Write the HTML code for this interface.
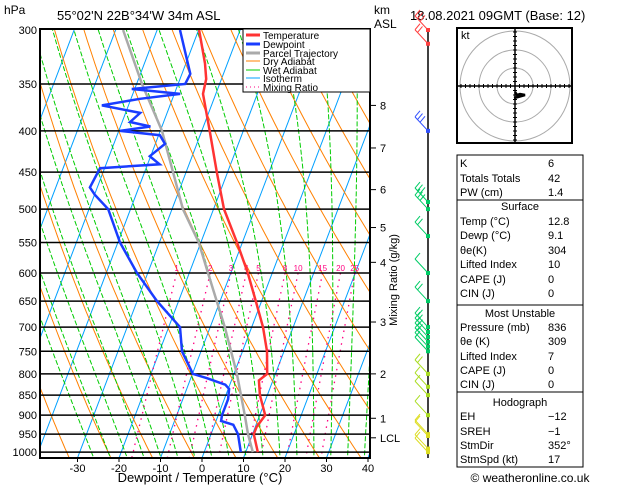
<!DOCTYPE html>
<html><head><meta charset="utf-8">
<style>
html,body{margin:0;padding:0;background:#fff;}
svg{display:block;font-family:"Liberation Sans",sans-serif;}
.t{font-size:12px;fill:#000;}
.s{font-size:11px;fill:#000;}
.lg{font-size:10px;fill:#000;}
</style></head>
<body>
<svg id="chart" width="629" height="486" viewBox="0 0 629 486" xmlns="http://www.w3.org/2000/svg">
  <defs><clipPath id="plotclip"><rect x="40" y="29" width="330" height="429"/></clipPath></defs>
  <text class="t" x="4" y="14">hPa</text>
  <text class="t" x="57" y="20" style="font-size:13px">55°02'N  22B°34'W  34m  ASL</text>
  <text class="t" x="374" y="14">km</text>
  <text class="t" x="374" y="28">ASL</text>
  <text class="t" x="410" y="20" style="font-size:13px">18.08.2021  09GMT  (Base: 12)</text>
  <g id="bg" clip-path="url(#plotclip)"></g>
  <g id="isobars"></g>
  <g id="series" clip-path="url(#plotclip)"></g>
  <rect x="40" y="29" width="330" height="429" fill="none" stroke="#000" stroke-width="2"/>
  <g id="axes"></g>
  <text class="t" x="200" y="482" text-anchor="middle" style="font-size:13px">Dewpoint / Temperature (°C)</text>
  <text class="s" transform="translate(397,280) rotate(-90)" text-anchor="middle">Mixing Ratio (g/kg)</text>
  <g>
    <rect x="243" y="29" width="127" height="63" fill="#fff" stroke="#000" stroke-width="1"/>
    <line x1="246" y1="35" x2="260" y2="35" stroke="#ff3333" stroke-width="3"/><text class="lg" x="263" y="39">Temperature</text>
    <line x1="246" y1="44" x2="260" y2="44" stroke="#1a3cff" stroke-width="3"/><text class="lg" x="263" y="48">Dewpoint</text>
    <line x1="246" y1="53" x2="260" y2="53" stroke="#aaa" stroke-width="3"/><text class="lg" x="263" y="57">Parcel Trajectory</text>
    <line x1="246" y1="61" x2="260" y2="61" stroke="#ff8000" stroke-width="1"/><text class="lg" x="263" y="65">Dry Adiabat</text>
    <line x1="246" y1="70" x2="260" y2="70" stroke="#00cc00" stroke-width="1"/><text class="lg" x="263" y="74">Wet Adiabat</text>
    <line x1="246" y1="78" x2="260" y2="78" stroke="#00a0ff" stroke-width="1"/><text class="lg" x="263" y="82">Isotherm</text>
    <line x1="246" y1="87" x2="260" y2="87" stroke="#ff0080" stroke-width="1" stroke-dasharray="1,3"/><text class="lg" x="263" y="91">Mixing Ratio</text>
  </g>
  <g id="wind"></g>
  <g id="hodo">
    <rect x="457" y="28" width="115" height="115" fill="#fff" stroke="#000" stroke-width="2"/>
    <text class="s" x="461" y="39">kt</text>
  </g>
  <g id="table"></g>
  <text class="t" x="530" y="482" text-anchor="middle">© weatheronline.co.uk</text>
</svg>
<script>
// ---- data ----
const tempP = [300,330,345,360,400,450,500,550,600,650,700,750,800,815,850,900,930,950,1000];
const tempT = [-39.9,-35.4,-33.7,-33.1,-28.1,-22.6,-17.5,-11.3,-5.9,-1.4,2.7,5.9,8.0,6.6,8.2,11.3,10.3,10.3,12.9];
const dewP = [300,340,350,355,360,365,372,380,390,395,400,405,415,430,440,445,470,480,500,550,600,650,700,750,800,810,825,835,860,900,915,925,950,1000];
const dewT = [-44.5,-38,-38.3,-50.7,-38.6,-47.8,-56.4,-46.5,-48.1,-42.8,-49.7,-39.7,-37.7,-40.2,-37.1,-51.1,-51.8,-49.9,-45.4,-39.5,-32.6,-25.2,-17.3,-14.6,-9.9,-6.1,-1.1,0.2,0.9,0.9,1.2,4.5,6.5,8.8];
const parcelP = [300,350,400,500,550,600,700,800,900,950,1000];
const parcelT = [-58.2,-48.7,-39.6,-27.4,-20.5,-15.5,-6.5,0.7,6.4,8.9,11.7];
const pressureTicks = [300,350,400,450,500,550,600,650,700,750,800,850,900,950,1000];
const tempTicks = [-30,-20,-10,0,10,20,30,40];
const kmLabels = ["8","7","6","5","4","3","2","1","LCL"];
const kmPressures = [372,420,473,527,582,690,800,908,960];
const mixRatios = [1,2,3,4,5,8,10,15,20,25];
const windP = [300,312,400,490,500,540,600,650,700,710,720,730,740,750,800,830,850,900,950,955,990,1000];
const windSpd = [25,20,30,25,30,20,10,15,20,15,15,15,10,10,20,10,10,10,10,10,5,5];
const tableLabels = ["K","Totals Totals","PW (cm)","Temp (°C)","Dewp (°C)","θe(K)","Lifted Index","CAPE (J)","CIN (J)","Pressure (mb)","θe (K)","Lifted Index","CAPE (J)","CIN (J)","EH","SREH","StmDir","StmSpd (kt)"];
const tableValues = ["6","42","1.4","12.8","9.1","304","10","0","0","836","309","7","0","0","\u221212","\u22121","352°","17"];

// ---- axis functions ----
const NS='http://www.w3.org/2000/svg';
function yP(p){return 30+350.6*Math.log(p/300);}
function xT(t,p){return 202+4.15*t+(458-yP(p))*0.38;}
function mk(tag,attrs,parent){const e=document.createElementNS(NS,tag);for(const k in attrs)e.setAttribute(k,attrs[k]);parent.appendChild(e);return e;}
const bg=document.getElementById('bg');
function poly(pts,stroke,w,dash,parent,name){
  const e=mk('polyline',{points:pts.map(q=>q[0].toFixed(1)+','+q[1].toFixed(1)).join(' '),fill:'none',stroke:stroke,'stroke-width':w},parent);
  if(dash)e.setAttribute('stroke-dasharray',dash);
  
  
  return e;
}
const pl=[];for(let p=300;p<=1050;p+=10)pl.push(p);
for(let t=-120;t<=50;t+=10){poly([[xT(t,1050),yP(1050)],[xT(t,250),yP(250)]],'#00a0ff',1,null,bg,'isotherm');}
for(let th=230;th<=480;th+=10){poly(pl.map(p=>[xT(th*Math.pow(p/1000,0.286)-273.15,p),yP(p)]),'#ff8000',1,null,bg,'dry-adiabat');}
function es(tc){return 6.112*Math.exp(17.67*tc/(tc+243.5));}
for(let tw=-24;tw<=40;tw+=4){
  let T=tw+273.15,pts=[];
  for(let p=1050;p>=250;p-=5){
    pts.push([xT(T-273.15,p),yP(p)]);
    const e=es(T-273.15),rs=0.622*e/(p-e);
    const dTdp=(1/p)*(287*T+2.5e6*rs)/(1004+2.5e6*2.5e6*rs*0.622/(287*T*T));
    T-=dTdp*5;
  }
  poly(pts,'#00cc00',1,'5,2',bg,'wet-adiabat');
}
const mr=document.getElementById('series');
mixRatios.forEach(w=>{
  const pts=[];for(let p=600;p<=1050;p+=10){const e=w*p/(622+w),l=Math.log(e/6.112);pts.push([xT(243.5*l/(17.67-l),p),yP(p)]);}
  poly(pts,'#ff0080',1.3,'1.5,5',bg,'mixing-ratio-line');
  const e=w*600/(622+w),l=Math.log(e/6.112);
  const t=mk('text',{x:xT(243.5*l/(17.67-l),600),y:yP(600)-2,'text-anchor':'middle','font-size':'8',fill:'#ff0080'},bg);
  t.textContent=w;
  
  
});
const iso=document.getElementById('isobars'),ax=document.getElementById('axes');
pressureTicks.forEach(p=>{
  const y=yP(p);
  if(p>300){const l=mk('line',{x1:40,x2:370,y1:y,y2:y,stroke:'#000','stroke-width':1.5},iso);}
  const t=mk('text',{x:37,y:y+4,'text-anchor':'end','class':'s'},ax);t.textContent=p;
  
  
});
tempTicks.forEach(tc=>{
  const x=202+4.15*tc;
  mk('line',{x1:x,x2:x,y1:458,y2:462,stroke:'#000'},ax);
  const t=mk('text',{x:x,y:472,'text-anchor':'middle','class':'s'},ax);t.textContent=tc;
  
  
});
kmLabels.forEach((k,i)=>{
  const y=yP(kmPressures[i]);
  mk('line',{x1:370,x2:376,y1:y,y2:y,stroke:'#000'},ax);
  const t=mk('text',{x:380,y:y+4,'class':'s'},ax);t.textContent=k;
  
  
});
poly(parcelP.map((p,i)=>[xT(parcelT[i],p),yP(p)]),'#aaaaaa',2.5,null,mr,'parcel-trajectory-line');
poly(dewP.map((p,i)=>[xT(dewT[i],p),yP(p)]),'#1a3cff',2.5,null,mr,'dewpoint-line');
poly(tempP.map((p,i)=>[xT(tempT[i],p),yP(p)]),'#ff3333',2.5,null,mr,'temperature-line');
const wd=document.getElementById('wind');
mk('line',{x1:428,x2:428,y1:30,y2:458,stroke:'#000','stroke-width':1.5},wd);
windP.forEach((p,i)=>{
  const y=yP(p),c=p<420?(p<350?'#ff4040':'#3050ff'):(p<760?'#00cc66':(p<930?'#aadd22':'#dddd22'));
  const g=mk('g',{stroke:c,fill:'none','stroke-width':1},wd);
  
  
  mk('line',{x1:428,y1:y,x2:415,y2:y-14},g);
  const n=Math.round(windSpd[i]/10);
  for(let j=0;j<n;j++){mk('line',{x1:415+j*2.5,y1:y-14+j*2.7,x2:420+j*2.5,y2:y-20+j*2.7},g);}
  mk('rect',{x:426,y:y-2,width:4,height:4,fill:c,stroke:'none'},g);
});
const hd=document.getElementById('hodo');
[18,36,55].forEach(r=>{mk('circle',{cx:515,cy:86,r:r,fill:'none',stroke:'#aaa'},hd);});
mk('line',{x1:458,x2:571,y1:86,y2:86,stroke:'#000','stroke-width':1.5},hd);
mk('line',{x1:515,x2:515,y1:29,y2:142,stroke:'#000','stroke-width':1.5},hd);
for(let d=-54;d<=54;d+=4.5){mk('line',{x1:515+d,x2:515+d,y1:84,y2:88,stroke:'#000'},hd);mk('line',{x1:513,x2:517,y1:86+d,y2:86+d,stroke:'#000'},hd);}
mk('polyline',{points:'515,92 517,95 520,94 525,95 518,97 514,98',fill:'none',stroke:'#000','stroke-width':2.5},hd);
const tb=document.getElementById('table');
[[155,200],[200,305],[305,392],[392,467]].forEach(b=>{mk('rect',{x:457,y:b[0],width:126,height:b[1]-b[0],fill:'#fff',stroke:'#000'},tb);});
const heads=[["Surface",206],["Most Unstable",313],["Hodograph",402]];
heads.forEach(h=>{const t=mk('text',{x:520,y:h[1]+4,'text-anchor':'middle','class':'s'},tb);t.textContent=h[0];});
const rowY=[163,178,192,221,235,250,264,279,293,327,341,356,370,384,416,431,445,459];
tableLabels.forEach((l,i)=>{
  const t=mk('text',{x:460,y:rowY[i]+4,'class':'s'},tb);t.textContent=l;
  
  
  const v=mk('text',{x:548,y:rowY[i]+4,'class':'s'},tb);v.textContent=tableValues[i];
  
  
});
</script>
</body></html>
